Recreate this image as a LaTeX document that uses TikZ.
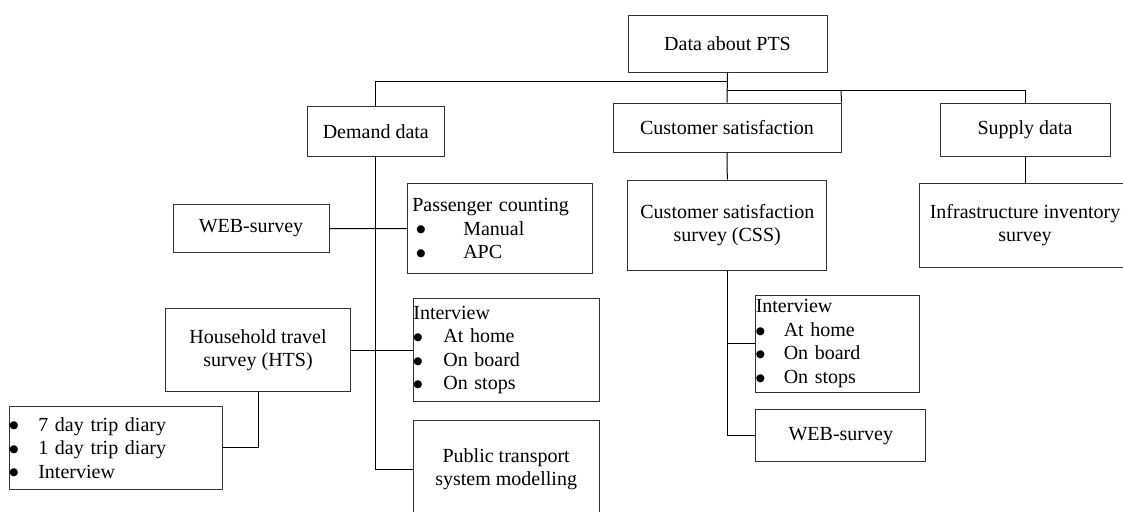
\documentclass[tikz,border=0pt]{standalone}
\usepackage{fontspec}
\setmainfont{Liberation Serif}
\newfontfamily\symfont{DejaVu Sans}
\newcommand{\blt}[1]{\makebox[#1][l]{\raisebox{2.2pt}{\symfont\fontsize{10.5pt}{10.5pt}\selectfont ●}}}
\tikzset{
  box/.style={draw=black!80, line width=1pt, inner sep=0pt, align=center,
    font=\fontsize{20pt}{23.5pt}\selectfont},
  listbox/.style={box, align=left},
  conn/.style={draw=black, line width=1pt}
}
\begin{document}
\begin{tikzpicture}[x=1pt,y=-1pt]
\useasboundingbox (0,0) rectangle (1123,511);
\clip (0,0) rectangle (1123,511);
\fill[white] (0,0) rectangle (1123,511);

% top level
\node[box, minimum width=199pt, minimum height=56pt] (top) at (727.5,44) {Data about PTS};
\node[box, minimum width=136.4pt, minimum height=49.5pt] (demand) at (375.8,131.3) {Demand data};
\node[box, minimum width=228pt, minimum height=49pt] (cs) at (727,127.5) {Customer satisfaction};
\node[box, minimum width=170pt, minimum height=53pt] (supply) at (1025,129.5) {Supply data};

% demand branch
\node[box, minimum width=156pt, minimum height=48.7pt] (web1) at (251,228.5) {WEB-survey};
\node[listbox, text width=185pt, minimum height=90.7pt] (pass) at (499.8,228.6)
  {\hspace*{5pt}Passenger counting\\ \hspace*{9pt}\blt{47pt}Manual\\ \hspace*{9pt}\blt{47pt}APC};
\node[box, minimum width=185pt, minimum height=83.5pt] (hts) at (258,350) {Household travel\\survey (HTS)};
\node[listbox, text width=185.7pt, minimum height=103.7pt] (int1) at (506.2,350)
  {Interview\\ \blt{30pt}At home\\ \blt{30pt}On board\\ \blt{30pt}On stops};
\node[listbox, text width=213.4pt, minimum height=83.3pt] (list) at (116,447.7)
  {\blt{29pt}7 day trip diary\\ \blt{29pt}1 day trip diary\\ \blt{29pt}Interview};
\node[box, minimum width=185.7pt, minimum height=98pt] (pt) at (506.2,469) {Public transport\\system modelling};

% customer satisfaction branch
\node[box, minimum width=199.3pt, minimum height=90pt] (css) at (727.3,225) {Customer satisfaction\\survey (CSS)};
\node[listbox, text width=163.3pt, minimum height=97pt] (int2) at (837.4,343.5)
  {Interview\\ \blt{28pt}At home\\ \blt{28pt}On board\\ \blt{28pt}On stops};
\node[box, minimum width=170.3pt, minimum height=51.7pt] (web2) at (840.8,435.8) {WEB-survey};

% supply branch
\node[box, minimum width=212pt, minimum height=84pt] (infra) at (1025,225) {Infrastructure inventory\\survey};

% junctions
\coordinate (jA) at (727,81);
\coordinate (jB) at (727,90);
\coordinate (jC) at (841,90);

% connectors
\draw[conn] (top.south) -- (cs.north);
\draw[conn] (jA) -| (demand.north);
\draw[conn] (jB) -| (supply.north);
\draw[conn] (jC) -- (cs.north east);
\draw[conn] (demand.south) |- (pt.west);
\draw[conn] (web1.east) -- (pass.west);
\draw[conn] (hts.east) -- (int1.west);
\draw[conn] (hts.south) |- (list.east);
\draw[conn] (supply.south) -- (infra.north);
\draw[conn] (cs.south) -- (css.north);
\draw[conn] (css.south) |- (web2.west);
\draw[conn] (css.south |- int2.west) -- (int2.west);
\end{tikzpicture}
\end{document}
